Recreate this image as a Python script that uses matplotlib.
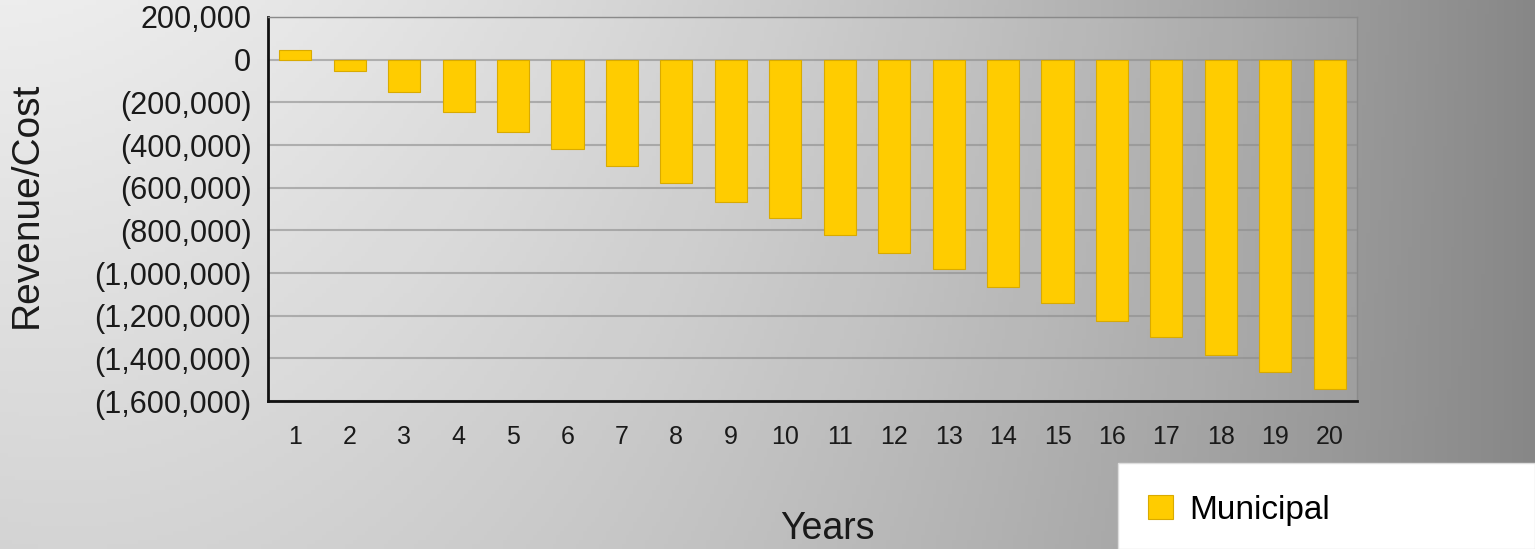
import numpy as np
import matplotlib
matplotlib.use("Agg")
import matplotlib.pyplot as plt
from matplotlib.ticker import FuncFormatter
from matplotlib.patches import Rectangle

# ============================================================================
# DATA
# ============================================================================

years = list(range(1, 21))
municipal = [45000, -55000, -150000, -245000, -340000, -420000, -500000,
             -580000, -665000, -740000, -820000, -905000, -980000, -1065000,
             -1140000, -1225000, -1300000, -1385000, -1465000, -1545000]
y_ticks = list(range(200000, -1600001, -200000))
series_name = "Municipal"

plt.rcParams['font.family'] = ['Liberation Sans', 'DejaVu Sans']

fig = plt.figure(figsize=(15.35, 5.49), dpi=100)

# background gradient (light top-left -> dark grey right)
bg = fig.add_axes([0, 0, 1, 1], zorder=-10)
gx, gy = np.meshgrid(np.linspace(0, 1, 400), np.linspace(0, 1, 120))
shade = 0.93 - 0.40 * gx ** 1.6 - 0.10 * gy * (1 - gx)
bg.imshow(np.dstack([shade] * 3), extent=[0, 1, 0, 1], aspect='auto')
bg.axis('off')

ax = fig.add_axes([268 / 1535, 1 - 401 / 549, 1089 / 1535, 384 / 549])
ax.set_facecolor((1, 1, 1, 0.08))

ax.bar(years, municipal, width=0.59, color='#ffcc00', edgecolor='#d9aa00',
       linewidth=0.8, label=series_name, zorder=3)

ax.set_xlim(0.5, 20.5)
ax.set_ylim(-1600000, 200000)
ax.set_yticks(y_ticks)
ax.set_xticks(years)
ax.yaxis.set_major_formatter(FuncFormatter(
    lambda v, p: f"({abs(int(v)):,})" if v < 0 else f"{int(v):,}"))
ax.grid(axis='y', color='#8c8c8c', alpha=0.6, linewidth=1.5, zorder=1)
ax.tick_params(axis='y', length=0, pad=12, labelsize=22, labelcolor='#1a1a1a')
ax.tick_params(axis='x', length=0, pad=17, labelsize=18, labelcolor='#1a1a1a')

for side in ('left', 'bottom'):
    ax.spines[side].set_color('#111111')
    ax.spines[side].set_linewidth(2)
for side in ('top', 'right'):
    ax.spines[side].set_color('#8a8a8a')
    ax.spines[side].set_linewidth(1)

# axis titles
fig.text(27 / 1535, 1 - 205 / 549, "Revenue/Cost", rotation=90, fontsize=28,
         color='#1a1a1a', ha='center', va='center')
fig.text(827 / 1535, 1 - 529 / 549, "Years", fontsize=27,
         color='#1a1a1a', ha='center', va='center')

# legend box
fig.patches.append(Rectangle((1118 / 1535, 0), 1 - 1118 / 1535, 1 - 463 / 549,
                             transform=fig.transFigure, facecolor='white',
                             edgecolor='#dddddd', zorder=0))
fig.legend(loc='center left', bbox_to_anchor=(1118 / 1535, 1 - 510 / 549),
           frameon=False, fontsize=24, handlelength=0.75, handleheight=0.75,
           handletextpad=0.5)

fig.savefig("out.png", dpi=100)
